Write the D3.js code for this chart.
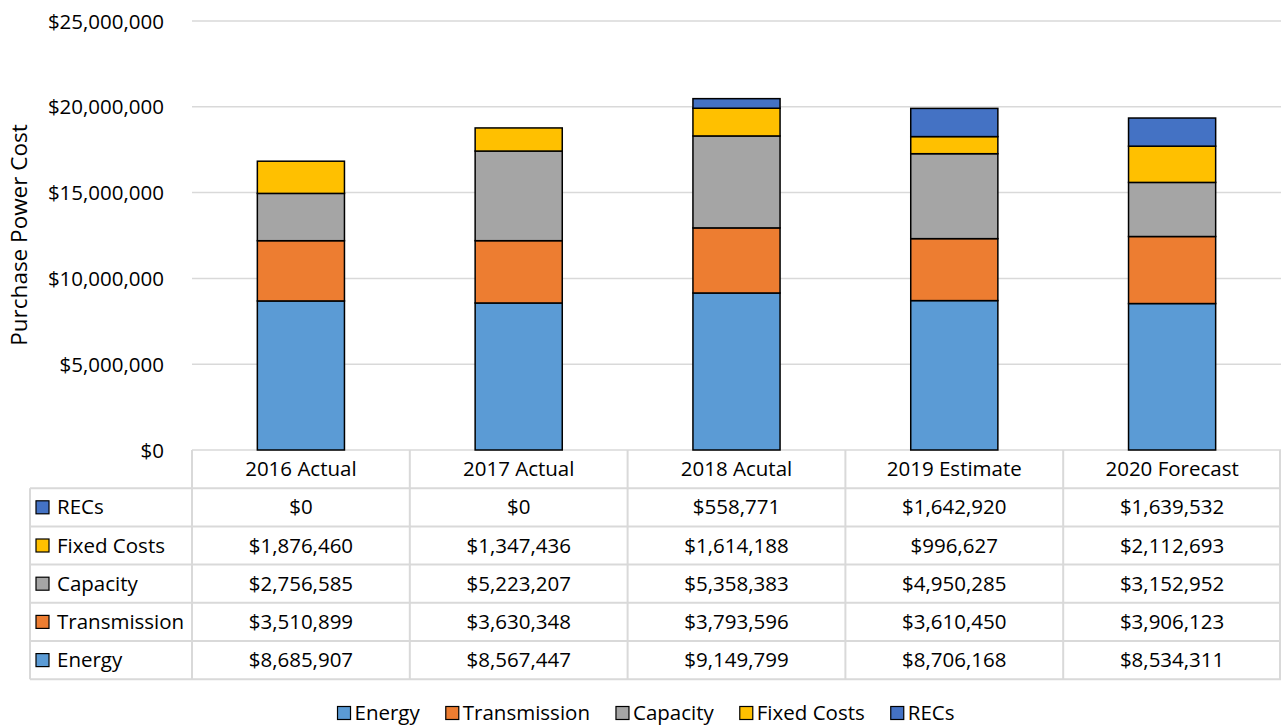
<!DOCTYPE html>
<html>
<head>
<meta charset="utf-8">
<script src="https://cdn.jsdelivr.net/npm/d3@7"></script>
<style>
  body { margin: 0; background: #fff; }
  svg text { font-family: "Open Sans", sans-serif; fill: #000; }
</style>
</head>
<body>
<svg id="chart" width="1281" height="725"></svg>
<script>
// chart values
const years = ['2016 Actual', '2017 Actual', '2018 Acutal', '2019 Estimate', '2020 Forecast']
const seriesNames = ['Energy', 'Transmission', 'Capacity', 'Fixed Costs', 'RECs']
const colors = ['#5b9bd5', '#ed7d31', '#a5a5a5', '#ffc000', '#4472c4']
const energy = [8685907, 8567447, 9149799, 8706168, 8534311]
const transmission = [3510899, 3630348, 3793596, 3610450, 3906123]
const capacity = [2756585, 5223207, 5358383, 4950285, 3152952]
const fixedCosts = [1876460, 1347436, 1614188, 996627, 2112693]
const recs = [0, 0, 558771, 1642920, 1639532]
const yTicks = [0, 5000000, 10000000, 15000000, 20000000, 25000000]

const seriesValues = [energy, transmission, capacity, fixedCosts, recs]

const rows = years.map(function (y, i) {
    const r = { year: y }
    seriesNames.forEach(function (s, k) { r[s] = seriesValues[k][i] })
    return r
})

const svg = d3.select('#chart')
const money = d3.format('$,')
const fs = '20.5px'

const plotLeft = 192, plotRight = 1281, plotTop = 21, plotBottom = 450

const x = d3.scaleBand()
    .domain(years)
    .range([plotLeft, plotRight])
    .paddingInner(0.6)
    .paddingOuter(0.3)

const xCol = d3.scaleBand()
    .domain(years)
    .range([plotLeft, plotRight])

const y = d3.scaleLinear()
    .domain([0, 25000000])
    .range([plotBottom, plotTop])

// gridlines
svg.append('g')
    .selectAll('line')
    .data(yTicks)
    .join('line')
    .attr('x1', plotLeft)
    .attr('x2', plotRight)
    .attr('y1', d => y(d))
    .attr('y2', d => y(d))
    .attr('stroke', '#d9d9d9')
    .attr('stroke-width', 1.5)

// y axis labels
const yAxis = svg.append('g')
    .attr('transform', 'translate(' + 164 + ',0)')
    .call(d3.axisLeft(y).tickValues(yTicks).tickFormat(money).tickSize(0).tickPadding(0))
yAxis.select('.domain').remove()
yAxis.selectAll('text')
    .style('font-size', fs)
    .style('font-family', '"Open Sans", sans-serif')
    .attr('dy', '0.35em')

svg.append('text')
    .attr('transform', 'translate(27,235) rotate(-90)')
    .attr('text-anchor', 'middle')
    .style('font-size', '22.5px')
    .text('Purchase Power Cost')

// stacked bars
const stacked = d3.stack().keys(seriesNames)(rows)

svg.append('g')
    .selectAll('g')
    .data(stacked)
    .join('g')
    .attr('fill', (d, i) => colors[i])
    .selectAll('rect')
    .data(d => d.filter(p => p[1] - p[0] > 0))
    .join('rect')
    .attr('x', d => x(d.data.year))
    .attr('width', x.bandwidth())
    .attr('y', d => y(d[1]))
    .attr('height', d => y(d[0]) - y(d[1]))
    .attr('stroke', '#000')
    .attr('stroke-width', 1.5)

// data table
const tableLeft = 30
const rowH = 38.2
const headerTop = plotBottom
const gridColor = '#d9d9d9'
const table = svg.append('g')

table.selectAll('text.head')
    .data(years)
    .join('text')
    .attr('class', 'head')
    .attr('x', d => xCol(d) + xCol.bandwidth() / 2)
    .attr('y', headerTop + rowH / 2)
    .attr('dy', '0.35em')
    .attr('text-anchor', 'middle')
    .style('font-size', fs)
    .text(d => d)

const tableRows = seriesNames.slice().reverse()

tableRows.forEach(function (s, r) {
    const k = seriesNames.indexOf(s)
    const cy = headerTop + rowH * (r + 1) + rowH / 2
    table.append('rect')
        .attr('x', tableLeft + 6)
        .attr('y', cy - 6.5)
        .attr('width', 13)
        .attr('height', 13)
        .attr('fill', colors[k])
        .attr('stroke', '#000')
        .attr('stroke-width', 1.2)
    table.append('text')
        .attr('x', tableLeft + 27)
        .attr('y', cy)
        .attr('dy', '0.35em')
        .style('font-size', fs)
        .text(s)
    table.selectAll(null)
        .data(seriesValues[k])
        .join('text')
        .attr('x', (d, i) => xCol(years[i]) + xCol.bandwidth() / 2)
        .attr('y', cy)
        .attr('dy', '0.35em')
        .attr('text-anchor', 'middle')
        .style('font-size', fs)
        .text(d => money(d))
})

// table grid lines
const hLines = d3.range(1, tableRows.length + 2)
table.selectAll('line.h')
    .data(hLines)
    .join('line')
    .attr('x1', tableLeft)
    .attr('x2', plotRight)
    .attr('y1', d => headerTop + rowH * d)
    .attr('y2', d => headerTop + rowH * d)
    .attr('stroke', gridColor)
    .attr('stroke-width', 2)

const vLines = years.map(d => xCol(d)).concat([plotRight - 1])
table.selectAll('line.v')
    .data(vLines)
    .join('line')
    .attr('x1', d => d)
    .attr('x2', d => d)
    .attr('y1', headerTop)
    .attr('y2', headerTop + rowH * (tableRows.length + 1))
    .attr('stroke', gridColor)
    .attr('stroke-width', 2)

table.append('line')
    .attr('x1', tableLeft)
    .attr('x2', tableLeft)
    .attr('y1', headerTop + rowH)
    .attr('y2', headerTop + rowH * (tableRows.length + 1))
    .attr('stroke', gridColor)
    .attr('stroke-width', 2)

// legend, laid out from measured text widths and centred
const legendGroup = svg.append('g')
const legend = legendGroup
    .selectAll('g')
    .data(seriesNames)
    .join('g')

legend.append('rect')
    .attr('x', 0)
    .attr('y', -6.5)
    .attr('width', 13)
    .attr('height', 13)
    .attr('fill', (d, i) => colors[i])
    .attr('stroke', '#000')
    .attr('stroke-width', 1.2)

legend.append('text')
    .attr('x', 17)
    .attr('dy', '0.35em')
    .style('font-size', fs)
    .text(d => d)

let cursor = 0
legend.each(function () {
    const w = d3.select(this).select('text').node().getComputedTextLength()
    d3.select(this).attr('transform', 'translate(' + cursor + ',0)')
    cursor += 17 + w + 26
})
const legendWidth = cursor - 26
legendGroup.attr('transform', 'translate(' + (646 - legendWidth / 2) + ',713)')
</script>
</body>
</html>
